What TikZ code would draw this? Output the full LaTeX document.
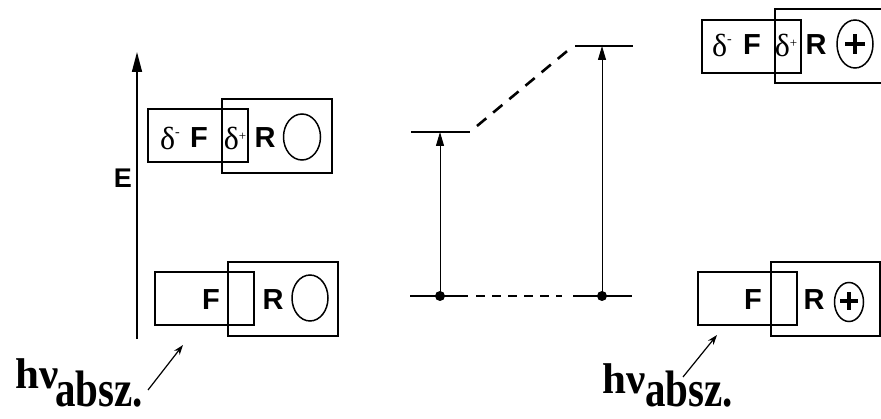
\documentclass[tikz,border=0pt]{standalone}
\usepackage{fontspec}
\usepackage{graphicx}
\setmainfont{Liberation Serif}
\setsansfont{Liberation Sans}
\usetikzlibrary{arrows.meta}
\newcommand{\dminus}{δ\raisebox{0.38em}{\fontsize{14}{14}\selectfont -}}
\newcommand{\dplus}{δ\raisebox{0.28em}{\fontsize{13}{13}\selectfont +}}
\begin{document}
\begin{tikzpicture}[x=1pt,y=1pt,
  box/.style={draw, line width=1.3pt},
  lvl/.style={line width=2pt},
  sftxt/.style={font=\fontsize{29}{29}\selectfont\sffamily\bfseries, inner sep=0pt},
  dtxt/.style={font=\fontsize{32}{32}\selectfont\rmfamily, inner sep=0pt},
  ring/.style={line width=1.5pt},
  plusbar/.style={line width=3.8pt},
  dot/.style={circle, fill=black, inner sep=0pt, minimum size=10pt},
  up/.style={line width=1pt, -{Triangle[length=14pt,width=8pt]}},
  hvarrow/.style={line width=1.2pt, -{Stealth[length=10pt,width=7pt]}},
  hvtxt/.style={font=\fontsize{43}{43}\selectfont\rmfamily\bfseries, inner sep=0pt},
  subtxt/.style={font=\fontsize{41}{41}\selectfont\rmfamily\bfseries, inner sep=0pt},
]
\useasboundingbox (0,0) rectangle (881,418);
\clip (0,0) rectangle (881,418);

% energy axis
\coordinate (axb) at (137,79);
\coordinate (axt) at (137,366);
\draw[line width=1.6pt, -{Triangle[length=20pt,width=10pt]}] (axb) -- (axt);
\node[sftxt, font=\fontsize{27}{27}\selectfont\sffamily\bfseries] (E) at (123,240) {E};

% upper left molecule
\draw[box] (148,256) rectangle (248,309);
\draw[box] (222,245) rectangle (332,319);
\node[dtxt] (ul1) at (170,280) {\dminus};
\node[sftxt] (ul2) at (199,280) {F};
\node[dtxt] (ul3) at (235,280) {\dplus};
\node[sftxt] (ul4) at (265,280) {R};
\draw[ring] (302,281) ellipse [x radius=18.5, y radius=23];

% lower left molecule
\draw[box] (155,93) rectangle (254,146);
\draw[box] (228,82) rectangle (338,156);
\node[sftxt] (ll1) at (211,118) {F};
\node[sftxt] (ll2) at (273,118) {R};
\draw[ring] (310,120) ellipse [x radius=18, y radius=23];

% upper right molecule
\draw[box] (702,345) rectangle (801,398);
\draw[box] (775,335) rectangle (900,409);
\node[dtxt] (ur1) at (722,373) {\dminus};
\node[sftxt] (ur2) at (752,373) {F};
\node[dtxt] (ur3) at (786,373) {\dplus};
\node[sftxt] (ur4) at (816,373) {R};
\draw[ring] (855,374) ellipse [x radius=18, y radius=24];
\draw[plusbar] (845,374) -- (865,374);
\draw[plusbar] (855,364) -- (855,384);

% lower right molecule
\draw[box] (698,93) rectangle (797,146);
\draw[box] (771,82) rectangle (880,156);
\node[sftxt] (lr1) at (753,118) {F};
\node[sftxt] (lr2) at (814,118) {R};
\draw[ring] (849,116) ellipse [x radius=14.5, y radius=19.5];
\draw[plusbar] (840,117) -- (858,117);
\draw[plusbar] (849,108) -- (849,126);

% energy levels
\coordinate (g1a) at (410,122); \coordinate (g1b) at (468,122);
\coordinate (g2a) at (573,122); \coordinate (g2b) at (632,122);
\coordinate (e1a) at (411,286); \coordinate (e1b) at (470,286);
\coordinate (e2a) at (575,372); \coordinate (e2b) at (633,372);
\draw[lvl] (g1a) -- (g1b);
\draw[lvl] (g2a) -- (g2b);
\draw[lvl] (e1a) -- (e1b);
\draw[lvl] (e2a) -- (e2b);
\draw[line width=2.2pt, dash pattern=on 9pt off 7pt] (476,122) -- (562,122);
\draw[line width=2.6pt, dash pattern=on 12pt off 9pt] (477,292) -- (572,371);
\node[dot] (d1) at (440,122) {};
\node[dot] (d2) at (602,122) {};
\coordinate (t1) at (440,286);
\coordinate (t2) at (602,372);
\draw[up] (d1.center) -- (t1);
\draw[up] (d2.center) -- (t2);

% h nu labels
\node[hvtxt, anchor=base west] (hv1) at (15,30) {hν};
\node[subtxt, anchor=base west] (ab1) at (55,12) {\scalebox{1}[1.25]{absz.}};
\coordinate (a1s) at (148,28); \coordinate (a1e) at (183,73);
\draw[hvarrow] (a1s) -- (a1e);

\node[hvtxt, anchor=base west] (hv2) at (602,25) {hν};
\node[subtxt, anchor=base west] (ab2) at (645,12) {\scalebox{1}[1.25]{absz.}};
\coordinate (a2s) at (683,41); \coordinate (a2e) at (717,83);
\draw[hvarrow] (a2s) -- (a2e);
\end{tikzpicture}
\end{document}
